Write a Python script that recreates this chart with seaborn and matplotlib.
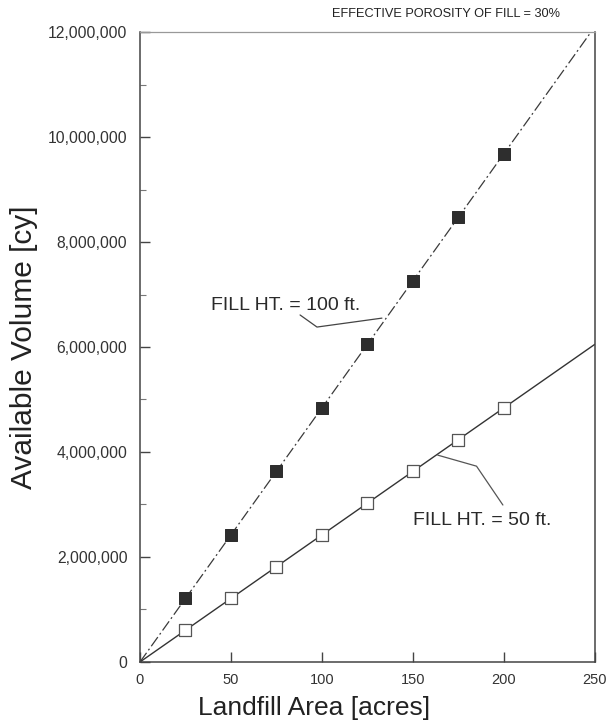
import numpy as np
import pandas as pd
import matplotlib
matplotlib.use("Agg")
import matplotlib.pyplot as plt
from matplotlib.ticker import MultipleLocator, FuncFormatter
import seaborn as sns

# data
area_pts = [25, 50, 75, 100, 125, 150, 175, 200]
vol_100ft = [1210000, 2420000, 3630000, 4840000, 6050000, 7260000, 8470000, 9680000]
vol_50ft = [605000, 1210000, 1815000, 2420000, 3025000, 3630000, 4235000, 4840000]
area_line = [0, 250]
line_100ft = [0, 12100000]
line_50ft = [0, 6050000]

sns.set_style("ticks")
plt.rcParams['font.family'] = ['Liberation Sans', 'DejaVu Sans']

fig = plt.figure(figsize=(6.1, 7.28), dpi=100)
ax = fig.add_axes([0.2295, 0.0907, 0.7455, 0.8653])

dark = "#333333"
sns.lineplot(x=area_line, y=line_100ft, ax=ax, color="#3a3a3a", lw=0.9,
             linestyle=(0, (9, 2.5, 1.5, 2.5)))
sns.lineplot(x=area_line, y=line_50ft, ax=ax, color=dark, lw=1.0)
sns.scatterplot(x=area_pts, y=vol_100ft, ax=ax, marker="s", s=80,
                color="#2e2e2e", edgecolor="#2e2e2e", zorder=3)
sns.scatterplot(x=area_pts, y=vol_50ft, ax=ax, marker="s", s=80,
                facecolor="white", edgecolor="#555555", linewidth=0.9, zorder=3)

ax.set_xlim(0, 250)
ax.set_ylim(0, 12000000)
ax.xaxis.set_major_locator(MultipleLocator(50))
ax.yaxis.set_major_locator(MultipleLocator(2000000))
ax.yaxis.set_minor_locator(MultipleLocator(1000000))
ax.yaxis.set_major_formatter(FuncFormatter(lambda v, p: f"{int(v):,}"))

ax.tick_params(axis="both", which="major", direction="in", length=7, width=1,
               color="#444444", labelcolor="#333333")
ax.tick_params(axis="y", which="minor", direction="in", length=4, width=0.8, color="#777777")
ax.tick_params(axis="y", which="major", pad=9, labelsize=11.3)
ax.tick_params(axis="x", which="major", pad=8, labelsize=10.5)

for side in ["left", "right", "bottom"]:
    ax.spines[side].set_color("#444444")
    ax.spines[side].set_linewidth(1.1)
ax.spines["top"].set_color("#999999")
ax.spines["top"].set_linewidth(0.9)

ax.set_xlabel("Landfill Area [acres]", fontsize=19, color="#222222")
ax.xaxis.set_label_coords(0.382, -0.054)
ax.set_ylabel("Available Volume [cy]", fontsize=21.5, color="#222222")
ax.yaxis.set_label_coords(-0.224, 0.5)

# annotations with leader lines
ax.text(80, 6800000, "FILL HT. = 100 ft.", fontsize=14, color="#2a2a2a",
        ha="center", va="center")
ax.plot([88, 97.3, 133], [6610000, 6380000, 6550000], color="#444444", lw=0.9)
ax.text(188, 2700000, "FILL HT. = 50 ft.", fontsize=14, color="#2a2a2a",
        ha="center", va="center")
ax.plot([163.7, 185, 199.5], [3940000, 3730000, 2990000], color="#555555", lw=0.9)

fig.text(0.731, 0.981, "EFFECTIVE POROSITY OF FILL = 30%", fontsize=9.2,
         color="#222222", ha="center", va="center")

fig.savefig("out.png", dpi=100)
